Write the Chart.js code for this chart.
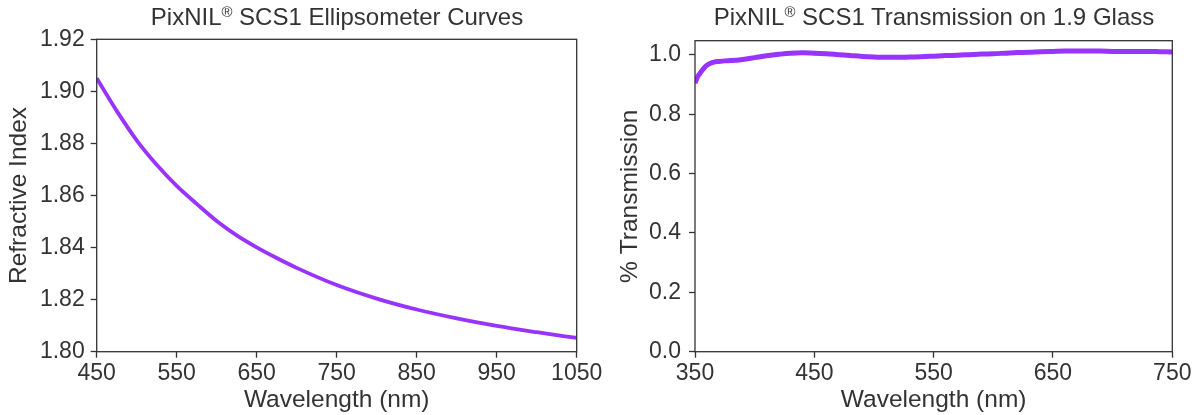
<!DOCTYPE html>
<html>
<head>
<meta charset="utf-8">
<script src="https://cdn.jsdelivr.net/npm/chart.js@4.4.1/dist/chart.umd.min.js"></script>
<style>
  html, body { margin:0; padding:0; background:#fff; }
  body { width:1198px; height:415px; position:relative; overflow:hidden; font-family:"Liberation Sans", Arial, sans-serif; }
  .box { position:absolute; top:0; height:415px; }
  .title { position:absolute; top:3px; color:#333; font-size:24px; white-space:nowrap; transform:translateX(-50%); line-height:28px; }
  .title sup { font-size:0.62em; vertical-align:0; position:relative; top:-0.55em; }
</style>
</head>
<body>
<div class="box" style="left:0;width:640px;"><canvas id="c1" width="640" height="415"></canvas></div>
<div class="box" style="left:600px;width:598px;"><canvas id="c2" width="598" height="415"></canvas></div>
<div class="title" style="left:337px;">PixNIL<sup>®</sup> SCS1 Ellipsometer Curves</div>
<div class="title" style="left:934px;">PixNIL<sup>®</sup> SCS1 Transmission on 1.9 Glass</div>
<script>
// ---- Data: left chart (refractive index) ----
const riWavelength = [450, 475, 500, 525, 550, 575, 600, 625, 650, 675, 700, 750, 800, 850, 900, 950, 1000, 1050];
const riValues     = [1.905, 1.8925, 1.8812, 1.8718, 1.8637, 1.8568, 1.8502, 1.8447, 1.8401, 1.8360, 1.8322, 1.8256, 1.8204, 1.8162, 1.8128, 1.8099, 1.8075, 1.8053];
const riXTicks = [450, 550, 650, 750, 850, 950, 1050];
const riYTicks = [1.80, 1.82, 1.84, 1.86, 1.88, 1.90, 1.92];

// ---- Data: right chart (transmission) ----
const trWavelength = [350, 352, 355, 358, 360, 363, 366, 370, 375, 380, 390, 400, 410, 420, 430, 440, 450, 460, 470, 480, 490, 500, 510, 520, 530, 540, 550, 560, 570, 580, 590, 600, 610, 620, 630, 640, 650, 660, 670, 680, 690, 700, 710, 720, 730, 740, 750];
const trValues     = [0.905, 0.925, 0.943, 0.958, 0.965, 0.972, 0.976, 0.978, 0.980, 0.981, 0.985, 0.991, 0.997, 1.002, 1.006, 1.007, 1.006, 1.004, 1.001, 0.998, 0.995, 0.993, 0.992, 0.992, 0.993, 0.994, 0.996, 0.998, 0.999, 1.001, 1.003, 1.004, 1.006, 1.008, 1.009, 1.011, 1.012, 1.013, 1.013, 1.013, 1.013, 1.012, 1.012, 1.012, 1.012, 1.011, 1.010];
const trXTicks = [350, 450, 550, 650, 750];
const trYTicks = [0.0, 0.2, 0.4, 0.6, 0.8, 1.0];

const TEXT = '#333333';
const AXIS = '#333333';
const LINE = '#9933ff';
const FONT = '"Liberation Sans", Arial, sans-serif';

const frame = {
  id: 'frame',
  afterDatasetsDraw(chart) {
    const a = chart.chartArea, ctx = chart.ctx;
    ctx.save();
    ctx.strokeStyle = AXIS;
    ctx.lineWidth = 1.3;
    ctx.strokeRect(a.left, a.top, a.right - a.left, a.bottom - a.top);
    ctx.restore();
  }
};

function makeChart(id, xs, ys, opt) {
  const pts = xs.map((x, i) => ({ x: x, y: ys[i] }));
  return new Chart(document.getElementById(id), {
    type: 'line',
    data: { datasets: [{ data: pts, borderColor: LINE, borderWidth: opt.lw, pointRadius: 0, fill: false, cubicInterpolationMode: 'monotone' }] },
    options: {
      responsive: false, animation: false, events: [],
      layout: { padding: { left: 0, right: opt.padRight, top: opt.top, bottom: 0 } },
      plugins: { legend: { display: false }, title: { display: false }, tooltip: { enabled: false } },
      scales: {
        x: {
          type: 'linear', min: opt.xMin, max: opt.xMax,
          afterBuildTicks: s => { s.ticks = opt.xTicks.map(v => ({ value: v })); },
          afterFit: s => { s.height = 415 - opt.bottom; s.paddingLeft = 0; s.paddingRight = 0; },
          grid: { display: true, drawOnChartArea: false, drawTicks: true, tickLength: 6, tickWidth: 1.3, tickColor: AXIS },
          border: { display: false },
          ticks: { color: TEXT, font: { family: FONT, size: 23 }, padding: 2, maxRotation: 0, autoSkip: false, callback: v => String(v) },
          title: { display: true, text: 'Wavelength (nm)', color: TEXT, font: { family: FONT, size: 24.5 }, padding: { top: 0, bottom: 0 } }
        },
        y: {
          type: 'linear', min: opt.yMin, max: opt.yMax,
          afterBuildTicks: s => { s.ticks = opt.yTicks.map(v => ({ value: v })); },
          afterFit: s => { s.width = opt.left; s.paddingTop = 0; s.paddingBottom = 0; },
          grid: { display: true, drawOnChartArea: false, drawTicks: true, tickLength: 6, tickWidth: 1.3, tickColor: AXIS },
          border: { display: false },
          ticks: { color: TEXT, font: { family: FONT, size: 23 }, padding: opt.tickPad, autoSkip: false, callback: v => v.toFixed(opt.dec) },
          title: { display: true, text: opt.yTitle, color: TEXT, font: { family: FONT, size: 24.5 }, padding: { top: opt.yTitlePad, bottom: 0 } }
        }
      }
    },
    plugins: [frame]
  });
}

makeChart('c1', riWavelength, riValues, {
  lw: 3.8, left: 96.7, padRight: 640 - 576.7, top: 39.3, bottom: 351.7, yTitlePad: 5, tickPad: 6,
  xMin: 450, xMax: 1050, yMin: 1.80, yMax: 1.92, xTicks: riXTicks, yTicks: riYTicks, dec: 2, yTitle: 'Refractive Index'
});
makeChart('c2', trWavelength, trValues, {
  lw: 5, left: 95, padRight: 598 - 572.3, top: 40.7, bottom: 351.7, yTitlePad: 16, tickPad: 8,
  xMin: 350, xMax: 750, yMin: 0, yMax: 1.048, xTicks: trXTicks, yTicks: trYTicks, dec: 1, yTitle: '% Transmission'
});
</script>
</body>
</html>
